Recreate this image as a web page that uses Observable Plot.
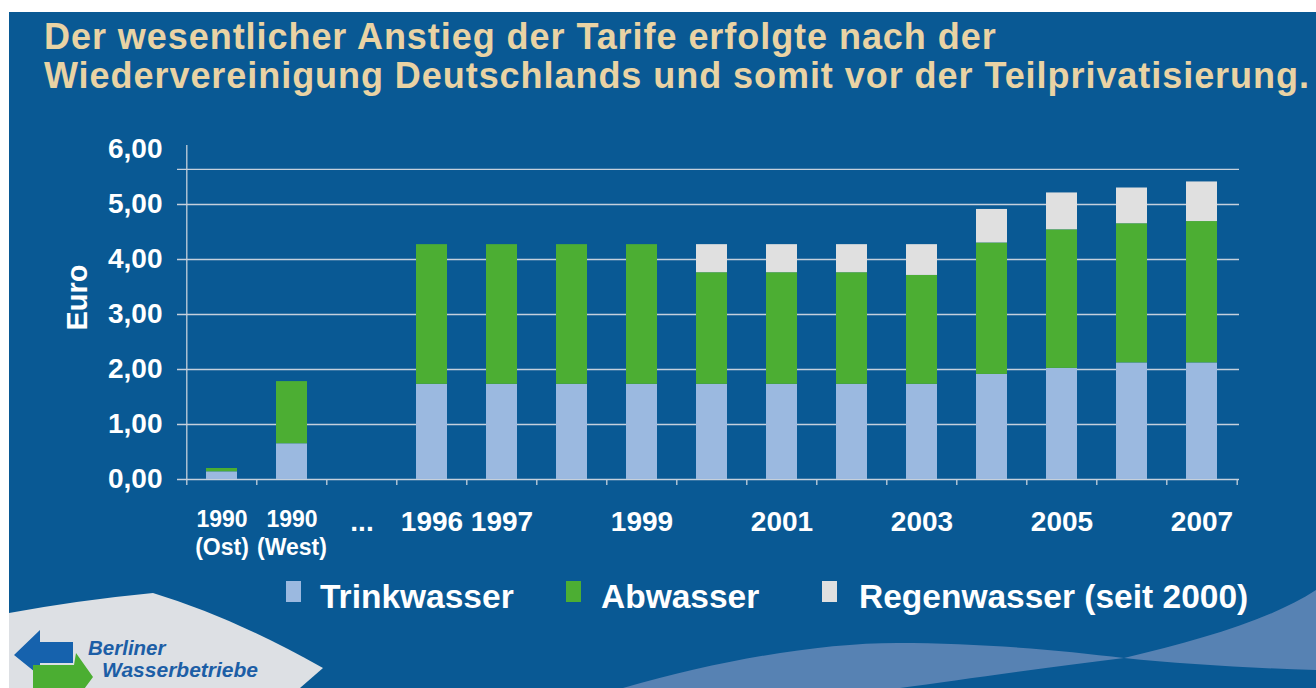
<!DOCTYPE html>
<html>
<head>
<meta charset="utf-8">
<script src="https://cdn.jsdelivr.net/npm/d3@7"></script>
<script src="https://cdn.jsdelivr.net/npm/@observablehq/plot@0.6"></script>
<style>
  html, body { margin: 0; padding: 0; background: #ffffff; }
  body { width: 1316px; height: 688px; position: relative; overflow: hidden; font-family: "Liberation Sans", Arial, sans-serif; }
  #panel { position: absolute; left: 9px; top: 12px; width: 1307px; height: 676px; background: #095994; }
  #deco { position: absolute; left: 0; top: 0; }
  #title { position: absolute; left: 44px; top: 17px; color: #e9d3a4; font-weight: bold; font-size: 36px; letter-spacing: 0.95px; line-height: 39px; white-space: nowrap; }
  #chart { position: absolute; left: 0; top: 120px; }
  .leg-sq { position: absolute; width: 15px; height: 21px; }
  .leg-tx { position: absolute; color: #ffffff; font-weight: bold; font-size: 33.5px; line-height: 34px; white-space: nowrap; }
</style>
</head>
<body>
<div id="panel"></div>
<svg id="deco" width="1316" height="688" viewBox="0 0 1316 688">
  <path d="M623,688 C720,660 820,643 897,643 C980,643 1060,650 1124,658 C1040,668 960,680 900,688 Z" fill="#5782b3"/>
  <path d="M1124,658 C1200,640 1270,620 1316,590 L1316,670 C1250,668 1180,664 1124,658 Z" fill="#5782b3"/>
  <path d="M9,613 Q80,600 153,593 Q235,618 323,668 L300,688 L9,688 Z" fill="#dde0e4"/>
  <path d="M14,655 L40,630 L40,642 L73,642 L73,663 L40,663 L40,676 Z" fill="#1662ad"/>
  <path d="M33,665 L74,665 L76,653 L93,677 L76,700 L74,690 L33,690 Z" fill="#4bae32"/>
  <text x="88" y="655" font-family="Liberation Sans, Arial, sans-serif" font-style="italic" font-weight="bold" font-size="20.5" fill="#1c5ea6">Berliner</text>
  <text x="102" y="677" font-family="Liberation Sans, Arial, sans-serif" font-style="italic" font-weight="bold" font-size="21" fill="#1c5ea6">Wasserbetriebe</text>
</svg>
<div id="title">Der wesentlicher Anstieg der Tarife erfolgte nach der<br>Wiedervereinigung Deutschlands und somit vor der Teilprivatisierung.</div>
<div id="chart"></div>
<div id="legend"></div>
<script>
// ---- data ----
const categories = ["1990 Ost", "1990 West", "gap", "1996", "1997", "1998", "1999", "2000", "2001", "2002", "2003", "2004", "2005", "2006", "2007"];
const tickLabels = ["1990\n(Ost)", "1990\n(West)", "...", "1996", "1997", "", "1999", "", "2001", "", "2003", "", "2005", "", "2007"];
const trinkwasser = [0.14, 0.65, null, 1.73, 1.73, 1.73, 1.73, 1.73, 1.73, 1.73, 1.73, 1.91, 2.02, 2.12, 2.12];
const abwasser    = [0.06, 1.13, null, 2.54, 2.54, 2.54, 2.54, 2.03, 2.03, 2.03, 1.98, 2.39, 2.52, 2.53, 2.57];
const regenwasser = [0, 0, null, 0, 0, 0, 0, 0.51, 0.51, 0.51, 0.56, 0.61, 0.67, 0.65, 0.72];
const seriesNames = ["Trinkwasser", "Abwasser", "Regenwasser (seit 2000)"];
const seriesColors = ["#9bb9e0", "#4cae33", "#e0e0e0"];
const yTicks = [0, 1, 2, 3, 4, 5, 6];
const gridValues = [0, 1, 2, 3, 4, 5, 5.64];
const yLabel = "Euro";

// ---- build table ----
const seriesValues = [trinkwasser, abwasser, regenwasser];
const rows = [];
categories.forEach((c, i) => {
  seriesNames.forEach((s, j) => {
    const v = seriesValues[j][i];
    if (v != null && v > 0) rows.push({category: c, series: s, value: v});
  });
});
const labelRows = categories.map((c, i) => ({category: c, label: tickLabels[i], size: tickLabels[i].includes("\n") ? 23 : 28}));

const W = 1316, H = 450, mL = 183, mR = 77, mT = 29, mB = 91;
const step = (W - mL - mR) / categories.length;
const gridColor = "#c5d0dc";

const chart = Plot.plot({
  width: W, height: H,
  marginLeft: mL, marginRight: mR, marginTop: mT, marginBottom: mB,
  style: {background: "transparent", fontFamily: "Liberation Sans, Arial, sans-serif", color: "#ffffff"},
  x: {domain: categories, paddingInner: 0.56, paddingOuter: 0.28, axis: null},
  y: {domain: [0, 6], axis: null},
  color: {domain: seriesNames, range: seriesColors},
  marks: [
    Plot.ruleY(gridValues, {stroke: gridColor, strokeWidth: 1.3, insetLeft: -6}),
    Plot.ruleX([categories[0]], {dx: -step / 2, stroke: gridColor, strokeWidth: 1.3, insetTop: -4}),
    Plot.axisX({ticks: categories, tickSize: 6, tickFormat: () => "", label: null, dx: -step / 2, stroke: gridColor, strokeWidth: 1.3}),
    Plot.axisX({ticks: [categories[categories.length - 1]], tickSize: 6, tickFormat: () => "", label: null, dx: step / 2, stroke: gridColor, strokeWidth: 1.3}),
    Plot.barY(rows, {x: "category", y: "value", fill: "series"}),
    Plot.axisY({ticks: yTicks, tickSize: 0, tickPadding: 21, tickFormat: d => d.toFixed(2).replace(".", ","), fill: "#ffffff", fontSize: 28, fontWeight: "bold", label: null}),
    Plot.text(labelRows, {x: "category", text: "label", frameAnchor: "bottom", dy: 28, lineAnchor: "top", lineHeight: 1.2, fontSize: "size", fontWeight: "bold", fill: "#ffffff"}),
    Plot.text([yLabel], {frameAnchor: "left", textAnchor: "middle", dx: -106, dy: -17, rotate: -90, fontSize: 29, fontWeight: "bold", fill: "#ffffff"})
  ]
});
document.getElementById("chart").appendChild(chart);

// ---- legend ----
const legend = document.getElementById("legend");
const legPos = [[286, 320], [566, 601], [822, 859]];
seriesNames.forEach((s, i) => {
  const sq = document.createElement("div");
  sq.className = "leg-sq";
  sq.style.left = legPos[i][0] + "px";
  sq.style.top = "581px";
  sq.style.background = seriesColors[i];
  legend.appendChild(sq);
  const tx = document.createElement("div");
  tx.className = "leg-tx";
  tx.style.left = legPos[i][1] + "px";
  tx.style.top = "580px";
  tx.textContent = s;
  legend.appendChild(tx);
});
</script>
</body>
</html>
